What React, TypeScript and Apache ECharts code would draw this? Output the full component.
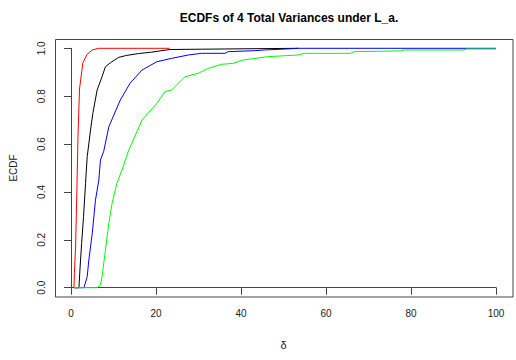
import React, { useEffect, useRef } from "react";
import * as echarts from "echarts";

const title = "ECDFs of 4 Total Variances under L_a.";
const xName = "δ";
const yName = "ECDF";
const xTicks = [0, 20, 40, 60, 80, 100];
const yTicks = [0, 0.2, 0.4, 0.6, 0.8, 1.0];

const redX = [0.7, 0.8, 1.08, 1.4, 1.64, 2.0, 2.8, 3.8, 5.0, 6.5, 23.2];
const redY = [0, 0.06, 0.17, 0.42, 0.63, 0.83, 0.94, 0.975, 0.993, 1.0, 1.0];

const blackX = [0.7, 1.87, 2.1, 2.5, 2.95, 3.42, 3.81, 4.6, 5.14, 6.15, 7.3, 8.1, 9.3, 11.2, 13, 15.9, 19, 23.3, 53.5];
const blackY = [0, 0, 0.074, 0.185, 0.297, 0.436, 0.547, 0.659, 0.728, 0.826, 0.881, 0.923, 0.94, 0.962, 0.97, 0.978, 0.984, 0.995, 1.0];

const blueX = [0.7, 3.04, 3.81, 4.2, 5.0, 5.76, 6.55, 6.93, 7.7, 8.9, 11.6, 13.9, 16.7, 20.2, 23.7, 27.6, 30.7, 36.2, 37, 43.2, 45.5, 49.5, 53.4, 100];
const blueY = [0, 0, 0.046, 0.116, 0.227, 0.366, 0.45, 0.533, 0.57, 0.672, 0.784, 0.854, 0.909, 0.944, 0.958, 0.972, 0.979, 0.979, 0.986, 0.99, 0.993, 0.996, 1.0, 1.0];

const greenX = [0.7, 6.15, 6.93, 7.3, 8.1, 8.9, 9.67, 10.8, 12.0, 13.6, 16.7, 20.2, 22.1, 23.7, 26.8, 30.0, 32.3, 35.4, 38.1, 40.5, 46.3, 53.4, 54.9, 65.8, 66.6, 77.5, 78.3, 92.3, 93.1, 100];
const greenY = [0, 0, 0.011, 0.046, 0.157, 0.269, 0.353, 0.436, 0.492, 0.575, 0.7, 0.77, 0.819, 0.826, 0.881, 0.896, 0.916, 0.933, 0.937, 0.951, 0.965, 0.972, 0.979, 0.979, 0.986, 0.989, 0.993, 0.993, 0.997, 0.997];

const seriesDefs = [
  { name: "red", xs: redX, ys: redY, color: "#FF0000" },
  { name: "black", xs: blackX, ys: blackY, color: "#000000" },
  { name: "blue", xs: blueX, ys: blueY, color: "#0000FF" },
  { name: "green", xs: greenX, ys: greenY, color: "#00FF00" },
];

const FONT = "'Liberation Sans', Arial, sans-serif";
const AXIS_COLOR = "#444";
const TEXT_COLOR = "#222";

export default function App() {
  const ref = useRef<HTMLDivElement>(null);
  useEffect(() => {
    if (!ref.current) return;
    const chart = echarts.init(ref.current, null, { renderer: "svg" });
    const gridLeft = 68.7;
    const gridRight = 20;
    const gridTop = 48.3;
    const gridBottom = 72.3;
    chart.setOption({
      animation: false,
      backgroundColor: "#fff",
      title: {
        text: title,
        left: 284,
        top: 7,
        textAlign: "center",
        textStyle: { fontFamily: FONT, fontSize: 12, fontWeight: "bold", color: "#000" },
      },
      grid: { left: gridLeft, right: gridRight, top: gridTop, bottom: gridBottom },
      xAxis: {
        type: "value",
        min: 0,
        max: 100,
        interval: 20,
        offset: 9.3,
        name: xName,
        nameLocation: "middle",
        nameGap: 42,
        nameTextStyle: { fontFamily: FONT, fontSize: 11, color: TEXT_COLOR },
        axisLine: { show: true, lineStyle: { color: AXIS_COLOR, width: 1 } },
        axisTick: { show: true, length: 7, lineStyle: { color: AXIS_COLOR } },
        axisLabel: {
          margin: 11,
          fontFamily: FONT,
          fontSize: 10,
          color: TEXT_COLOR,
          customValues: xTicks,
        },
        splitLine: { show: false },
      },
      yAxis: {
        type: "value",
        min: 0,
        max: 1,
        interval: 0.2,
        offset: 13,
        name: yName,
        nameLocation: "middle",
        nameGap: 40,
        nameRotate: 90,
        nameTextStyle: { fontFamily: FONT, fontSize: 10, color: TEXT_COLOR },
        axisLine: { show: true, lineStyle: { color: AXIS_COLOR, width: 1 } },
        axisTick: { show: true, length: 7, lineStyle: { color: AXIS_COLOR } },
        axisLabel: {
          rotate: 90,
          margin: 12,
          fontFamily: FONT,
          fontSize: 10,
          color: TEXT_COLOR,
          formatter: (v: number) => {
            const t = yTicks.find((y) => Math.abs(y - v) < 1e-9);
            return t === undefined ? "" : t.toFixed(1);
          },
        },
        splitLine: { show: false },
      },
      graphic: [
        {
          type: "rect",
          shape: { x: 55.5, y: 39.5, width: 457.5, height: 257.5 },
          style: { fill: "none", stroke: AXIS_COLOR, lineWidth: 1 },
          silent: true,
        },
      ],
      series: seriesDefs.map((s) => ({
        type: "line",
        name: s.name,
        showSymbol: false,
        symbol: "none",
        clip: false,
        data: s.xs.map((x, i) => [x, s.ys[i]]),
        lineStyle: { color: s.color, width: 1 },
        itemStyle: { color: s.color },
      })),
    });
    return () => chart.dispose();
  }, []);
  return (
    <div
      ref={ref}
      style={{ position: "absolute", left: 0, top: 0, width: 516, height: 360 }}
    />
  );
}
